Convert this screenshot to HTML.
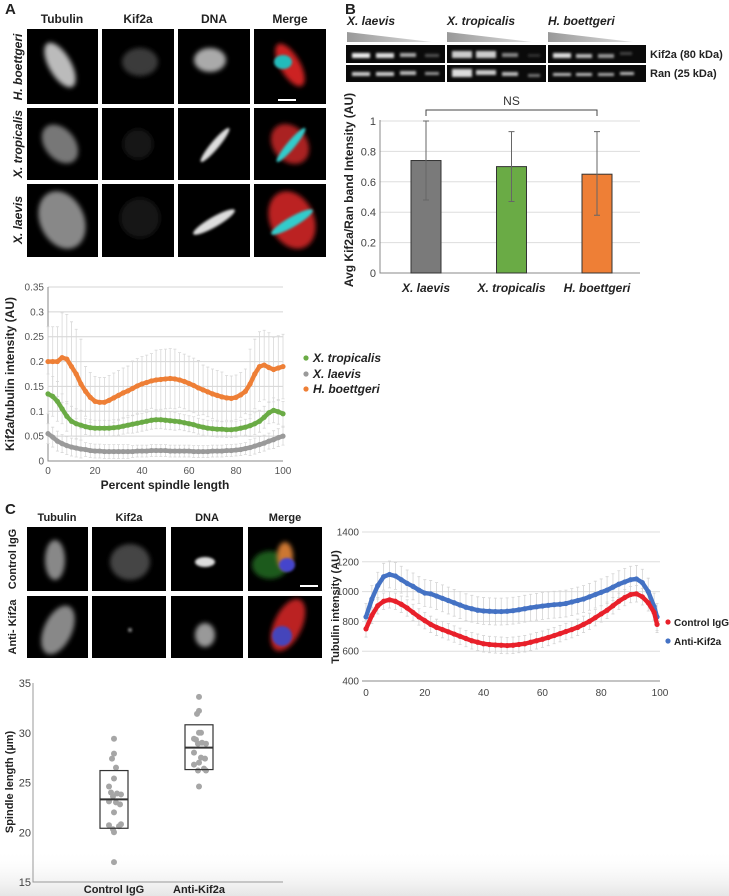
<!DOCTYPE html>
<html><head><meta charset="utf-8"><style>
html,body{margin:0;padding:0;background:#fff;}
svg{display:block;font-family:"Liberation Sans",sans-serif;}
</style></head><body>
<svg id="fig" width="729" height="896" viewBox="0 0 729 896" xmlns="http://www.w3.org/2000/svg">
<defs>
<filter id="b2" x="-50%" y="-50%" width="200%" height="200%"><feGaussianBlur stdDeviation="2.5"/></filter>
<filter id="b1" x="-50%" y="-50%" width="200%" height="200%"><feGaussianBlur stdDeviation="1.2"/></filter>
<linearGradient id="tri" x1="0" x2="1"><stop offset="0" stop-color="#999"/><stop offset="1" stop-color="#ddd"/></linearGradient>
<linearGradient id="fade" x1="0" y1="0" x2="0" y2="1"><stop offset="0" stop-color="#fff" stop-opacity="0"/><stop offset="1" stop-color="#e6e6e6"/></linearGradient>
</defs>
<rect x="0" y="850" width="729" height="46" fill="url(#fade)"/>

<!-- Panel A micrographs -->
<g font-weight="bold" font-size="12" fill="#222">
<text x="5" y="14" font-size="15">A</text>
<text x="62" y="23" text-anchor="middle">Tubulin</text>
<text x="138" y="23" text-anchor="middle">Kif2a</text>
<text x="214" y="23" text-anchor="middle">DNA</text>
<text x="290" y="23" text-anchor="middle">Merge</text>
<g font-style="italic">
<text transform="translate(22,67) rotate(-90)" text-anchor="middle">H. boettgeri</text>
<text transform="translate(22,144) rotate(-90)" text-anchor="middle">X. tropicalis</text>
<text transform="translate(22,220) rotate(-90)" text-anchor="middle">X. laevis</text>
</g>
<g>
<rect x="27" y="29" width="71" height="75" fill="#000"/><rect x="102" y="29" width="72" height="75" fill="#000"/><rect x="178" y="29" width="72" height="75" fill="#000"/><rect x="254" y="29" width="72" height="75" fill="#000"/>
<rect x="27" y="108" width="71" height="72" fill="#000"/><rect x="102" y="108" width="72" height="72" fill="#000"/><rect x="178" y="108" width="72" height="72" fill="#000"/><rect x="254" y="108" width="72" height="72" fill="#000"/>
<rect x="27" y="184" width="71" height="73" fill="#000"/><rect x="102" y="184" width="72" height="73" fill="#000"/><rect x="178" y="184" width="72" height="73" fill="#000"/><rect x="254" y="184" width="72" height="73" fill="#000"/>
<ellipse cx="60" cy="65" rx="11" ry="25" transform="rotate(-30 60 65)" fill="#bbb" filter="url(#b2)"/>
<ellipse cx="140" cy="62" rx="18" ry="14" fill="#3a3a3a" filter="url(#b2)"/>
<ellipse cx="210" cy="60" rx="16" ry="12" fill="#aaa" filter="url(#b2)"/>
<ellipse cx="290" cy="65" rx="10" ry="24" transform="rotate(-30 290 65)" fill="#c22" filter="url(#b2)"/>
<ellipse cx="283" cy="62" rx="9" ry="7" fill="#2bb" filter="url(#b1)"/>
<rect x="278" y="99" width="18" height="2" fill="#fff"/>
<ellipse cx="60" cy="144" rx="15" ry="22" transform="rotate(-40 60 144)" fill="#777" filter="url(#b2)"/>
<ellipse cx="138" cy="144" rx="15" ry="15" fill="#181818" filter="url(#b2)"/>
<ellipse cx="215" cy="145" rx="4" ry="22" transform="rotate(40 215 145)" fill="#ddd" filter="url(#b1)"/>
<ellipse cx="290" cy="144" rx="17" ry="22" transform="rotate(-40 290 144)" fill="#a22" filter="url(#b2)"/>
<ellipse cx="291" cy="145" rx="4" ry="22" transform="rotate(40 291 145)" fill="#3cc" filter="url(#b1)"/>
<ellipse cx="62" cy="220" rx="22" ry="30" transform="rotate(-25 62 220)" fill="#888" filter="url(#b2)"/>
<ellipse cx="140" cy="218" rx="20" ry="20" fill="#141414" filter="url(#b2)"/>
<ellipse cx="214" cy="222" rx="5" ry="24" transform="rotate(60 214 222)" fill="#ddd" filter="url(#b1)"/>
<ellipse cx="292" cy="220" rx="22" ry="30" transform="rotate(-25 292 220)" fill="#b22" filter="url(#b2)"/>
<ellipse cx="292" cy="222" rx="5" ry="24" transform="rotate(60 292 222)" fill="#3cc" filter="url(#b1)"/>
</g>
</g>

<!-- Panel B blot -->
<g font-weight="bold" font-size="12" fill="#222">
<text x="345" y="14" font-size="15">B</text>
<g font-style="italic">
<text x="347" y="25">X. laevis</text>
<text x="447" y="25">X. tropicalis</text>
<text x="548" y="25">H. boettgeri</text>
</g>
<polygon points="347,32 432,42 347,42" fill="url(#tri)"/>
<polygon points="447,32 532,42 447,42" fill="url(#tri)"/>
<polygon points="548,32 633,42 548,42" fill="url(#tri)"/>
<rect x="346" y="45" width="99" height="18" fill="#0a0a0a"/><rect x="447" y="45" width="99" height="18" fill="#0a0a0a"/><rect x="548" y="45" width="98" height="18" fill="#0a0a0a"/>
<rect x="346" y="65" width="99" height="17" fill="#0a0a0a"/><rect x="447" y="65" width="99" height="17" fill="#0a0a0a"/><rect x="548" y="65" width="98" height="17" fill="#0a0a0a"/>
<g filter="url(#b1)">
<rect x="352" y="53" width="18" height="5" fill="#eee"/><rect x="376" y="53" width="18" height="5" fill="#ddd"/><rect x="400" y="53" width="16" height="4" fill="#aaa"/><rect x="425" y="54" width="14" height="3" fill="#555"/>
<rect x="452" y="51" width="20" height="7" fill="#ccc"/><rect x="476" y="51" width="20" height="7" fill="#ccc"/><rect x="502" y="53" width="16" height="4" fill="#888"/><rect x="528" y="54" width="12" height="3" fill="#333"/>
<rect x="553" y="53" width="18" height="5" fill="#ddd"/><rect x="576" y="54" width="16" height="4" fill="#bbb"/><rect x="598" y="54" width="16" height="4" fill="#999"/><rect x="620" y="52" width="12" height="3" fill="#444"/>
<rect x="352" y="72" width="18" height="4" fill="#ccc"/><rect x="376" y="72" width="18" height="4" fill="#ccc"/><rect x="400" y="71" width="16" height="4" fill="#bbb"/><rect x="425" y="72" width="14" height="3" fill="#999"/>
<rect x="452" y="69" width="20" height="8" fill="#ddd"/><rect x="476" y="70" width="20" height="5" fill="#ccc"/><rect x="502" y="72" width="16" height="4" fill="#bbb"/><rect x="528" y="74" width="12" height="3" fill="#777"/>
<rect x="553" y="73" width="18" height="3" fill="#bbb"/><rect x="576" y="73" width="16" height="3" fill="#bbb"/><rect x="598" y="73" width="16" height="3" fill="#aaa"/><rect x="620" y="72" width="14" height="3" fill="#bbb"/>
</g>
<text x="650" y="58" font-size="11">Kif2a (80 kDa)</text>
<text x="650" y="77" font-size="11">Ran (25 kDa)</text>
</g>

<!-- Panel C micrographs -->
<g font-weight="bold" font-size="11" fill="#222">
<text x="5" y="514" font-size="15">C</text>
<text x="57" y="521" text-anchor="middle">Tubulin</text>
<text x="129" y="521" text-anchor="middle">Kif2a</text>
<text x="207" y="521" text-anchor="middle">DNA</text>
<text x="285" y="521" text-anchor="middle">Merge</text>
<text transform="translate(16,559) rotate(-90)" text-anchor="middle">Control IgG</text>
<text transform="translate(16,627) rotate(-90)" text-anchor="middle">Anti- Kif2a</text>
<rect x="27" y="527" width="61" height="64" fill="#000"/><rect x="92" y="527" width="74" height="64" fill="#000"/><rect x="171" y="527" width="72" height="64" fill="#000"/><rect x="248" y="527" width="74" height="64" fill="#000"/>
<rect x="27" y="596" width="61" height="62" fill="#000"/><rect x="92" y="596" width="74" height="62" fill="#000"/><rect x="171" y="596" width="72" height="62" fill="#000"/><rect x="248" y="596" width="74" height="62" fill="#000"/>
<ellipse cx="55" cy="560" rx="10" ry="20" fill="#888" filter="url(#b2)"/>
<ellipse cx="130" cy="562" rx="20" ry="18" fill="#444" filter="url(#b2)"/>
<ellipse cx="205" cy="562" rx="10" ry="5" fill="#ddd" filter="url(#b1)"/>
<ellipse cx="270" cy="565" rx="18" ry="14" fill="#1a5a1a" filter="url(#b2)"/>
<ellipse cx="285" cy="556" rx="8" ry="14" fill="#c73" filter="url(#b2)"/>
<ellipse cx="287" cy="565" rx="8" ry="7" fill="#44c" filter="url(#b1)"/>
<rect x="300" y="585" width="18" height="2" fill="#fff"/>
<ellipse cx="58" cy="630" rx="14" ry="26" transform="rotate(25 58 630)" fill="#888" filter="url(#b2)"/>
<ellipse cx="130" cy="630" rx="2" ry="2" fill="#888" filter="url(#b1)"/>
<ellipse cx="205" cy="635" rx="10" ry="12" fill="#999" filter="url(#b2)"/>
<ellipse cx="288" cy="625" rx="14" ry="28" transform="rotate(25 288 625)" fill="#b22" filter="url(#b2)"/>
<ellipse cx="282" cy="636" rx="10" ry="10" fill="#44b" filter="url(#b1)"/>
</g>

<g id="chartA"></g>
<g id="chartB"></g>
<g id="chartC"></g>
<g id="chartS"></g>
</svg>
<script>
// ---- Panel A line chart data (every 2% of spindle length) ----
const aPositions = [0,2,4,6,8,10,12,14,16,18,20,22,24,26,28,30,32,34,36,38,40,42,44,46,48,50,52,54,56,58,60,62,64,66,68,70,72,74,76,78,80,82,84,86,88,90,92,94,96,98,100];
const aBoettgeri = [0.20,0.20,0.20,0.208,0.205,0.19,0.175,0.155,0.14,0.128,0.12,0.118,0.118,0.122,0.127,0.132,0.137,0.141,0.146,0.151,0.155,0.158,0.161,0.163,0.164,0.165,0.166,0.165,0.163,0.16,0.156,0.152,0.147,0.143,0.139,0.135,0.132,0.129,0.127,0.126,0.128,0.133,0.14,0.155,0.175,0.19,0.193,0.188,0.184,0.187,0.19];
const aTropicalis = [0.135,0.13,0.12,0.105,0.09,0.08,0.075,0.072,0.069,0.067,0.066,0.066,0.066,0.066,0.067,0.068,0.07,0.072,0.074,0.076,0.078,0.08,0.082,0.083,0.083,0.082,0.081,0.08,0.079,0.077,0.075,0.073,0.07,0.068,0.066,0.065,0.064,0.064,0.063,0.063,0.064,0.066,0.068,0.071,0.075,0.08,0.088,0.097,0.102,0.099,0.095];
const aLaevis = [0.055,0.048,0.04,0.035,0.031,0.028,0.026,0.024,0.023,0.021,0.02,0.02,0.019,0.019,0.019,0.019,0.019,0.019,0.019,0.02,0.02,0.02,0.021,0.021,0.021,0.021,0.02,0.02,0.02,0.02,0.02,0.019,0.019,0.019,0.019,0.02,0.02,0.02,0.021,0.021,0.022,0.023,0.025,0.027,0.03,0.033,0.036,0.04,0.043,0.047,0.05];
const aBoettgeriSD = [0.07,0.09,0.05,0.05,0.055,0.06,0.055,0.05,0.045,0.07,0.065];
const aTropicalisSD = [0.04,0.03,0.016,0.016,0.018,0.018,0.016,0.016,0.016,0.022,0.025];
const aLaevisSD = [0.02,0.018,0.014,0.014,0.012,0.012,0.012,0.012,0.012,0.016,0.018];
const aYTicks = ["0","0.05","0.1","0.15","0.2","0.25","0.3","0.35"];
const aXTicks = ["0","20","40","60","80","100"];

// ---- Panel B bar chart data ----
const bCategories = ["X. laevis","X. tropicalis","H. boettgeri"];
const bValues = [0.74,0.70,0.65];
const bErrLow = [0.48,0.47,0.38];
const bErrHigh = [1.0,0.93,0.93];
const bYTicks = ["0","0.2","0.4","0.6","0.8","1"];

// ---- Panel C line chart data ----
const cPositions = [0,2,4,6,8,10,12,14,16,18,20,22,24,26,28,30,32,34,36,38,40,42,44,46,48,50,52,54,56,58,60,62,64,66,68,70,72,74,76,78,80,82,84,86,88,90,92,94,96,98,99];
const cControl = [750,840,905,935,945,935,915,890,860,830,805,780,760,745,730,715,700,685,670,660,650,645,642,640,638,640,645,650,660,670,680,692,705,718,732,745,760,780,800,825,850,875,905,935,960,980,985,965,925,860,780];
const cAnti = [830,950,1040,1100,1115,1105,1080,1055,1035,1010,990,985,970,955,940,925,910,895,885,875,870,868,866,866,868,872,878,885,892,898,903,908,912,915,920,930,940,950,965,980,995,1010,1030,1050,1065,1080,1085,1060,1000,900,830];
const cControlSD = 55;
const cAntiSD = 90;
const cYTicks = ["400","600","800","1000","1200","1400"];
const cXTicks = ["0","20","40","60","80","100"];

// ---- Spindle length scatter data ----
const sGroups = ["Control IgG","Anti-Kif2a"];
const sControl = [29.4,27.9,27.4,26.5,25.4,24.6,24.0,23.9,23.8,23.6,23.1,23.0,22.8,22.0,20.7,20.6,20.8,20.3,20.0,17.0];
const sAnti = [33.6,32.2,31.9,30.0,30.0,29.4,29.3,29.0,28.9,28.9,28.0,27.5,27.4,27.0,26.8,26.4,26.2,26.2,24.6];
const sBoxLow = [20.4,26.3];
const sBoxHigh = [26.2,30.8];
const sMedian = [23.3,28.5];
const sYTicks = ["15","20","25","30","35"];

const NS = "http://www.w3.org/2000/svg";
function mk(parent, tag, attrs, txt){
  const e = document.createElementNS(NS, tag);
  for (const k in attrs) e.setAttribute(k, attrs[k]);
  if (txt !== undefined) e.textContent = txt;
  parent.appendChild(e);
  return e;
}

// ===== Chart A =====
(function(){
  const g = document.getElementById('chartA');
  const xA = v => 48 + v/100*235;
  const yA = v => 461 - v/0.35*174;
  aYTicks.forEach(t => {
    const v = parseFloat(t);
    const l = mk(g,'line',{x1:48,x2:283,y1:yA(v),y2:yA(v),stroke:'#d4d4d4','stroke-width':1});
    
    
    const tx = mk(g,'text',{x:44,y:yA(v)+3.5,'text-anchor':'end','font-size':10,fill:'#555'},t);
    
    
  });
  aXTicks.forEach(t => {
    const tx = mk(g,'text',{x:xA(+t),y:474,'text-anchor':'middle','font-size':10,fill:'#555'},t);
    
    
  });
  const ax = mk(g,'path',{d:'M48,287V461H283',fill:'none',stroke:'#888','stroke-width':1});
  
  
  const series = [[aLaevis,aLaevisSD,'#9a9a9a','a-laevis'],[aTropicalis,aTropicalisSD,'#6aab45','a-tropicalis'],[aBoettgeri,aBoettgeriSD,'#ee7f36','a-boettgeri']];
  series.forEach(([vals,sd,col,nm]) => {
    vals.forEach((v,i) => {
      const p = aPositions[i]; const s = sd[Math.min(10,Math.round(p/10))];
      const x = xA(p);
      const e = mk(g,'path',{d:`M${x},${yA(v+s)}V${yA(Math.max(0,v-s))}M${x-1.5},${yA(v+s)}h3M${x-1.5},${yA(Math.max(0,v-s))}h3`,stroke:'#d8d8d8','stroke-width':0.8,fill:'none'});
      
      
    });
  });
  series.forEach(([vals,sd,col,nm]) => {
    const ln = mk(g,'polyline',{points:vals.map((v,i)=>xA(aPositions[i])+','+yA(v)).join(' '),fill:'none',stroke:col,'stroke-width':4.4,'stroke-linejoin':'round'});
    
    
    vals.forEach((v,i) => {
      const c = mk(g,'circle',{cx:xA(aPositions[i]),cy:yA(v),r:2.6,fill:col});
      
      
    });
  });
  const yt = mk(g,'text',{transform:'translate(14,374) rotate(-90)','text-anchor':'middle','font-size':12,'font-weight':'bold',fill:'#222'},'Kif2a/tubulin intensity (AU)');
  
  
  const xt = mk(g,'text',{x:165,y:489,'text-anchor':'middle','font-size':12,'font-weight':'bold',fill:'#222'},'Percent spindle length');
  
  
  [['X. tropicalis','#6aab45',362],['X. laevis','#9a9a9a',378],['H. boettgeri','#ee7f36',393]].forEach(([t,c,y]) => {
    const d = mk(g,'circle',{cx:306,cy:y-4,r:2.6,fill:c});
    
    
    const tx = mk(g,'text',{x:313,y:y,'font-size':12,'font-weight':'bold','font-style':'italic',fill:'#222'},t);
    
    
  });
})();

// ===== Chart B =====
(function(){
  const g = document.getElementById('chartB');
  const yB = v => 273 - v*152;
  const xB = i => 426 + i*85.5;
  const cols = ['#7a7a7a','#6aab45','#ee7f36'];
  bYTicks.forEach(t => {
    const v = parseFloat(t);
    if (v>0){
      const l = mk(g,'line',{x1:380,x2:640,y1:yB(v),y2:yB(v),stroke:'#ddd','stroke-width':1});
      
      
    }
    const tx = mk(g,'text',{x:376,y:yB(v)+4,'text-anchor':'end','font-size':11,fill:'#444'},t);
    
    
  });
  const ax = mk(g,'path',{d:'M380,120V273H640',fill:'none',stroke:'#888','stroke-width':1});
  
  
  bValues.forEach((v,i) => {
    const r = mk(g,'rect',{x:xB(i)-15,y:yB(v),width:30,height:273-yB(v),fill:cols[i],stroke:'#333','stroke-width':1});
    
    
    const e = mk(g,'path',{d:`M${xB(i)},${yB(bErrHigh[i])}V${yB(bErrLow[i])}M${xB(i)-3},${yB(bErrHigh[i])}h6M${xB(i)-3},${yB(bErrLow[i])}h6`,stroke:'#666','stroke-width':1,fill:'none'});
    
    
    const tx = mk(g,'text',{x:xB(i),y:292,'text-anchor':'middle','font-size':12,'font-weight':'bold','font-style':'italic',fill:'#222'},bCategories[i]);
    
    
  });
  const br = mk(g,'path',{d:`M${xB(0)},116V110H${xB(2)}V116`,fill:'none',stroke:'#444','stroke-width':1});
  
  
  const ns = mk(g,'text',{x:(xB(0)+xB(2))/2,y:105,'text-anchor':'middle','font-size':12,fill:'#333'},'NS');
  
  
  const yt = mk(g,'text',{transform:'translate(353,190) rotate(-90)','text-anchor':'middle','font-size':12,'font-weight':'bold',fill:'#222'},'Avg Kif2a/Ran band Intensity (AU)');
  
  
})();

// ===== Chart C =====
(function(){
  const g = document.getElementById('chartC');
  const xC = v => 366 + v/100*294;
  const yC = v => 681 - (v-400)/1000*149;
  cYTicks.forEach(t => {
    const v = +t;
    const l = mk(g,'line',{x1:362,x2:660,y1:yC(v),y2:yC(v),stroke:'#ddd','stroke-width':1});
    
    
    const tx = mk(g,'text',{x:359,y:yC(v)+3.5,'text-anchor':'end','font-size':10,fill:'#444'},t);
    
    
  });
  cXTicks.forEach(t => {
    const tx = mk(g,'text',{x:xC(+t),y:696,'text-anchor':'middle','font-size':10,fill:'#444'},t);
    
    
  });
  const ax = mk(g,'line',{x1:362,x2:660,y1:681,y2:681,stroke:'#888','stroke-width':1});
  
  
  const series = [[cAnti,cAntiSD,'#4472c4','c-anti-kif2a'],[cControl,cControlSD,'#e8202a','c-control-igg']];
  series.forEach(([vals,sd,col,nm]) => {
    vals.forEach((v,i) => {
      const x = xC(cPositions[i]);
      const e = mk(g,'path',{d:`M${x},${yC(v+sd)}V${yC(v-sd)}M${x-1.5},${yC(v+sd)}h3M${x-1.5},${yC(v-sd)}h3`,stroke:'#d4d4d4','stroke-width':0.8,fill:'none'});
      
      
    });
  });
  series.forEach(([vals,sd,col,nm]) => {
    const ln = mk(g,'polyline',{points:vals.map((v,i)=>xC(cPositions[i])+','+yC(v)).join(' '),fill:'none',stroke:col,'stroke-width':4.4,'stroke-linejoin':'round'});
    
    
    vals.forEach((v,i) => {
      const c = mk(g,'circle',{cx:xC(cPositions[i]),cy:yC(v),r:2.6,fill:col});
      
      
    });
  });
  const yt = mk(g,'text',{transform:'translate(339,607) rotate(-90)','text-anchor':'middle','font-size':11,'font-weight':'bold',fill:'#222'},'Tubulin intensity (AU)');
  
  
  [['Control IgG','#e8202a',626],['Anti-Kif2a','#4472c4',645]].forEach(([t,c,y]) => {
    const d = mk(g,'circle',{cx:668,cy:y-4,r:2.6,fill:c});
    
    
    const tx = mk(g,'text',{x:674,y:y,'font-size':10,'font-weight':'bold',fill:'#222'},t);
    
    
  });
})();

// ===== Scatter =====
(function(){
  const g = document.getElementById('chartS');
  const yS = v => 882 - (v-15)/20*199;
  const xS = i => 114 + i*85;
  const jitter = [0,0,-2,2,0,-5,-3,3,7,-1,-5,2,6,0,-5,5,7,-1,0,0];
  sYTicks.forEach(t => {
    const tx = mk(g,'text',{x:31,y:yS(+t)+4,'text-anchor':'end','font-size':11,fill:'#444'},t);
    
    
  });
  const ax = mk(g,'path',{d:'M33,683V882H283',fill:'none',stroke:'#999','stroke-width':1});
  
  
  [sControl,sAnti].forEach((arr,gi) => {
    arr.forEach((v,i) => {
      const c = mk(g,'circle',{cx:xS(gi)+jitter[i%jitter.length],cy:yS(v),r:3,fill:'#a6a6a6'});
      
      
    });
    const b = mk(g,'rect',{x:xS(gi)-14,y:yS(sBoxHigh[gi]),width:28,height:yS(sBoxLow[gi])-yS(sBoxHigh[gi]),fill:'none',stroke:'#333','stroke-width':1.2});
    
    
    const m = mk(g,'line',{x1:xS(gi)-14,x2:xS(gi)+14,y1:yS(sMedian[gi]),y2:yS(sMedian[gi]),stroke:'#333','stroke-width':2});
    
    
    const tx = mk(g,'text',{x:xS(gi),y:893,'text-anchor':'middle','font-size':11,'font-weight':'bold',fill:'#222'},sGroups[gi]);
    
    
  });
  const yt = mk(g,'text',{transform:'translate(13,782) rotate(-90)','text-anchor':'middle','font-size':11,'font-weight':'bold',fill:'#222'},'Spindle length (µm)');
  
  
})();
</script>
</body></html>
